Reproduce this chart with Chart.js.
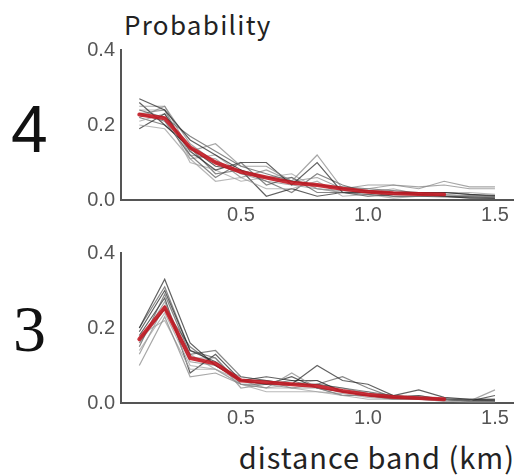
<!DOCTYPE html>
<html>
<head>
<meta charset="utf-8">
<script src="https://cdn.jsdelivr.net/npm/chart.js@4"></script>
<style>
  html, body { margin: 0; padding: 0; background: #fff; }
  body { width: 518px; height: 476px; position: relative; overflow: hidden; }
  canvas { position: absolute; left: 0; }
  .lbl { position: absolute; white-space: nowrap; line-height: 1; color: #111; }
</style>
</head>
<body>
<div class="lbl" style="left:124px; top:11px; font: 26px 'Noto Sans CJK JP'; letter-spacing:1.3px; line-height:1; color:#222;">Probability</div>
<div class="lbl" style="left:11px; top:96px; font: 66px 'Liberation Sans'; line-height:1;">4</div>
<div class="lbl" style="left:13px; top:296px; font: 66px 'Liberation Serif'; line-height:1;">3</div>
<div class="lbl" style="right:3px; top:442px; font: 29px 'Noto Sans CJK JP'; letter-spacing:1px; line-height:1; color:#222;">distance band (km)</div>
<canvas id="c4" width="518" height="232" style="top:0px;"></canvas>
<canvas id="c3" width="518" height="244" style="top:232px;"></canvas>
<script>
// ---- data ----
const distanceBands = [0.1,0.2,0.3,0.4,0.5,0.6,0.7,0.8,0.9,1.0,1.1,1.2,1.3,1.4,1.5];
const xTicks = [0.5, 1.0, 1.5];
const yTicks = [0.0, 0.2, 0.4];

// panel "4"
const mean4 = [0.228,0.218,0.14,0.10,0.075,0.06,0.046,0.04,0.03,0.022,0.018,0.016,0.015];
const runs4_01 = [0.27,0.24,0.16,0.12,0.08,0.06,0.05,0.04,0.03,0.025,0.02,0.02,0.02,0.015,0.012];
const runs4_02 = [0.25,0.25,0.13,0.15,0.09,0.09,0.05,0.12,0.03,0.03,0.04,0.03,0.05,0.035,0.035];
const runs4_03 = [0.23,0.21,0.12,0.06,0.10,0.04,0.06,0.02,0.02,0.015,0.01,0.01,0.01,0.008,0.006];
const runs4_04 = [0.20,0.19,0.11,0.05,0.06,0.03,0.03,0.05,0.01,0.015,0.005,0.01,0.015,0.01,0.008];
const runs4_05 = [0.19,0.23,0.13,0.08,0.10,0.10,0.04,0.10,0.02,0.02,0.02,0.015,0.01,0.01,0.01];
const runs4_06 = [0.22,0.25,0.15,0.10,0.07,0.05,0.04,0.03,0.025,0.02,0.015,0.015,0.01,0.012,0.01];
const runs4_07 = [0.24,0.22,0.17,0.13,0.09,0.07,0.05,0.04,0.035,0.03,0.025,0.02,0.02,0.015,0.01];
const runs4_08 = [0.21,0.23,0.10,0.08,0.05,0.06,0.07,0.03,0.02,0.02,0.03,0.015,0.02,0.02,0.015];
const runs4_09 = [0.26,0.20,0.14,0.09,0.08,0.01,0.03,0.01,0.02,0.01,0.015,0.02,0.01,0.005,0.005];
const runs4_10 = [0.23,0.24,0.12,0.11,0.06,0.08,0.05,0.06,0.03,0.04,0.04,0.035,0.04,0.03,0.03];
const runs4_11 = [0.22,0.20,0.14,0.07,0.08,0.05,0.02,0.07,0.04,0.02,0.01,0.01,0.008,0.006,0.004];
const runs4_12 = [0.24,0.24,0.11,0.12,0.07,0.06,0.06,0.03,0.02,0.025,0.02,0.02,0.015,0.01,0.008];

// panel "3"
const mean3 = [0.17,0.255,0.12,0.105,0.06,0.055,0.05,0.045,0.032,0.022,0.016,0.013,0.01];
const runs3_01 = [0.20,0.33,0.16,0.10,0.06,0.05,0.05,0.10,0.06,0.05,0.02,0.035,0.015,0.01,0.01];
const runs3_02 = [0.10,0.23,0.07,0.08,0.05,0.04,0.08,0.04,0.03,0.02,0.02,0.015,0.01,0.005,0.035];
const runs3_03 = [0.15,0.29,0.13,0.14,0.07,0.06,0.05,0.05,0.07,0.04,0.015,0.02,0.01,0.01,0.01];
const runs3_04 = [0.18,0.22,0.09,0.09,0.05,0.03,0.03,0.03,0.02,0.01,0.01,0.01,0.005,0.003,0.003];
const runs3_05 = [0.19,0.30,0.14,0.11,0.06,0.07,0.06,0.06,0.03,0.02,0.015,0.01,0.01,0.005,0.005];
const runs3_06 = [0.16,0.27,0.12,0.12,0.04,0.05,0.04,0.04,0.02,0.02,0.01,0.01,0.008,0.005,0.004];
const runs3_07 = [0.17,0.25,0.15,0.10,0.06,0.06,0.05,0.05,0.04,0.03,0.02,0.015,0.01,0.008,0.006];
const runs3_08 = [0.14,0.24,0.10,0.09,0.05,0.04,0.04,0.03,0.025,0.015,0.01,0.01,0.005,0.005,0.004];
const runs3_09 = [0.18,0.28,0.08,0.13,0.06,0.05,0.07,0.04,0.03,0.02,0.01,0.015,0.01,0.005,0.02];
const runs3_10 = [0.13,0.26,0.11,0.10,0.07,0.06,0.04,0.05,0.04,0.025,0.02,0.01,0.012,0.01,0.008];
const runs3_11 = [0.20,0.31,0.14,0.12,0.05,0.05,0.06,0.04,0.02,0.02,0.015,0.02,0.008,0.006,0.005];
const runs3_12 = [0.16,0.25,0.13,0.09,0.06,0.04,0.05,0.06,0.03,0.03,0.01,0.012,0.01,0.007,0.006];

const runs4 = [runs4_01,runs4_02,runs4_03,runs4_04,runs4_05,runs4_06,runs4_07,runs4_08,runs4_09,runs4_10,runs4_11,runs4_12];
const runs3 = [runs3_01,runs3_02,runs3_03,runs3_04,runs3_05,runs3_06,runs3_07,runs3_08,runs3_09,runs3_10,runs3_11,runs3_12];

// ---- styling ----
const grayShades = ['rgba(30,30,30,0.7)','rgba(130,130,130,0.7)','rgba(70,70,70,0.65)','rgba(160,160,160,0.75)'];
const tickFont = { family: "'Liberation Sans', Arial, sans-serif", size: 20 };
const tickColor = '#555';
const axisColor = '#555';

function pts(vals) { return vals.map((v, i) => ({ x: distanceBands[i], y: v })); }

function buildDatasets(mean, runs) {
  const ds = [{
    data: pts(mean), borderColor: 'rgba(195,25,35,0.9)', borderWidth: 4,
    pointRadius: 0, tension: 0, borderJoinStyle: 'round', borderCapStyle: 'round'
  }];
  runs.forEach((r, i) => ds.push({
    data: pts(r), borderColor: grayShades[i % grayShades.length], borderWidth: 1.2,
    pointRadius: 0, tension: 0
  }));
  return ds;
}

function makeChart(id, mean, runs, padTop, xHeight) {
  return new Chart(document.getElementById(id), {
    type: 'line',
    data: { datasets: buildDatasets(mean, runs) },
    options: {
      responsive: false, animation: false,
      layout: { padding: { top: padTop, left: 0, right: 5, bottom: 0 } },
      plugins: { legend: { display: false }, tooltip: { enabled: false } },
      scales: {
        x: {
          type: 'linear', min: 0.028, max: 1.571,
          grid: { display: false, drawTicks: false },
          border: { display: true, color: axisColor, width: 2 },
          afterBuildTicks: s => { s.ticks = xTicks.map(v => ({ value: v })); },
          afterFit: s => { s.height = xHeight; },
          ticks: { font: tickFont, color: tickColor, padding: 3, maxRotation: 0,
                   callback: v => Number(v).toFixed(1) }
        },
        y: {
          type: 'linear', min: 0, max: 0.4,
          grid: { display: false, drawTicks: false },
          border: { display: true, color: axisColor, width: 2 },
          afterBuildTicks: s => { s.ticks = yTicks.map(v => ({ value: v })); },
          afterFit: s => { s.width = 121; },
          ticks: { font: tickFont, color: tickColor, padding: 6,
                   callback: v => Number(v).toFixed(1) }
        }
      }
    }
  });
}

makeChart('c4', mean4, runs4, 50, 32);
makeChart('c3', mean3, runs3, 21, 73);
</script>
</body>
</html>
